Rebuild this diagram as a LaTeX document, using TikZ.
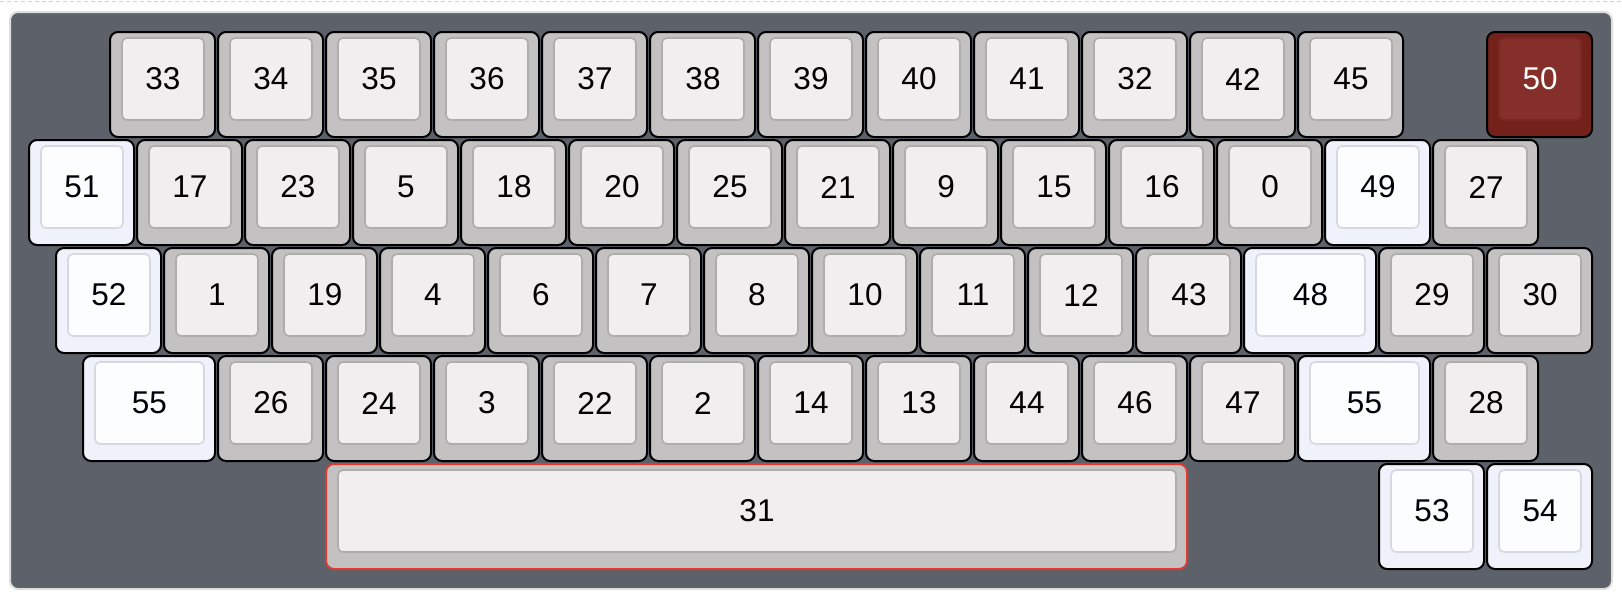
\documentclass[tikz,border=0pt]{standalone}
\usepackage{fontspec}
\setmainfont{Liberation Sans}
\usetikzlibrary{positioning}

\definecolor{boardgray}{HTML}{5D616A}
\definecolor{capgray}{HTML}{C3C1C2}
\definecolor{topgray}{HTML}{F0EEEF}
\definecolor{rimgray}{HTML}{AEADAE}
\definecolor{edgegray}{HTML}{000000}
\definecolor{textgray}{HTML}{000000}
\definecolor{capwhite}{HTML}{EFF2FB}
\definecolor{topwhite}{HTML}{FBFDFF}
\definecolor{rimwhite}{HTML}{D6D9E0}
\definecolor{edgewhite}{HTML}{000000}
\definecolor{textwhite}{HTML}{000000}
\definecolor{capred}{HTML}{74201B}
\definecolor{topred}{HTML}{842F29}
\definecolor{rimred}{HTML}{7C2822}
\definecolor{edgered}{HTML}{000000}
\definecolor{textred}{HTML}{FFFFFF}
\definecolor{capspace}{HTML}{C3C1C2}
\definecolor{topspace}{HTML}{F0EEEF}
\definecolor{rimspace}{HTML}{AEADAE}
\definecolor{edgespace}{HTML}{E0392F}
\definecolor{textspace}{HTML}{000000}

% one key: name, column, row, width (in keys), label, tone
\newcommand{\keycap}[6]{%
  \pgfmathsetmacro{\kx}{29+108*(#2)}%
  \pgfmathsetmacro{\ky}{32+108*(#3)}%
  \pgfmathsetmacro{\kw}{108*(#4)-3}%
  \draw[capbody, draw=edge#6, fill=cap#6] (\kx,\ky) rectangle ++(\kw,105);
  \draw[captop, draw=rim#6, fill=top#6] (\kx+12,\ky+6) rectangle ++(\kw-23,82);
  \node[caplabel, text=text#6] (#1) at (\kx+0.5+\kw/2,\ky+47) {#5};%
}

\begin{document}
\begin{tikzpicture}[x=0.5pt, y=-0.5pt,
    capbody/.style={line width=1pt, rounded corners=4pt},
    captop/.style={line width=0.8pt, rounded corners=2.5pt},
    caplabel/.style={inner sep=0pt, font=\fontsize{15.75}{18}\selectfont}]
  \useasboundingbox (0,0) rectangle (1622,600);
  \draw[gray!35, line width=0.5pt, dash pattern=on 2pt off 1.5pt] (0,1.5) -- (1622,1.5);
  \draw[draw=gray!25, line width=1pt, fill=boardgray, rounded corners=4pt] (10,12) rectangle (1612,589);

  % top row
  \foreach \lbl [count=\i from 0] in {33,34,35,36,37,38,39,40,41,32,42,45} {
    \keycap{key0-\i}{0.75+\i}{0}{1}{\lbl}{gray}
  }
  \keycap{key0-esc}{13.5}{0}{1}{50}{red}

  % second row
  \keycap{key1-left}{0}{1}{1}{51}{white}
  \foreach \lbl [count=\i from 1] in {17,23,5,18,20,25,21,9,15,16,0} {
    \keycap{key1-\i}{\i}{1}{1}{\lbl}{gray}
  }
  \keycap{key1-right}{12}{1}{1}{49}{white}
  \keycap{key1-end}{13}{1}{1}{27}{gray}

  % third row
  \keycap{key2-left}{0.25}{2}{1}{52}{white}
  \foreach \lbl [count=\i from 0] in {1,19,4,6,7,8,10,11,12,43} {
    \keycap{key2-\i}{1.25+\i}{2}{1}{\lbl}{gray}
  }
  \keycap{key2-right}{11.25}{2}{1.25}{48}{white}
  \keycap{key2-a}{12.5}{2}{1}{29}{gray}
  \keycap{key2-b}{13.5}{2}{1}{30}{gray}

  % fourth row
  \keycap{key3-left}{0.5}{3}{1.25}{55}{white}
  \foreach \lbl [count=\i from 0] in {26,24,3,22,2,14,13,44,46,47} {
    \keycap{key3-\i}{1.75+\i}{3}{1}{\lbl}{gray}
  }
  \keycap{key3-right}{11.75}{3}{1.25}{55}{white}
  \keycap{key3-end}{13}{3}{1}{28}{gray}

  % bottom row
  \keycap{key4-space}{2.75}{4}{8}{31}{space}
  \keycap{key4-a}{12.5}{4}{1}{53}{white}
  \keycap{key4-b}{13.5}{4}{1}{54}{white}
\end{tikzpicture}
\end{document}
